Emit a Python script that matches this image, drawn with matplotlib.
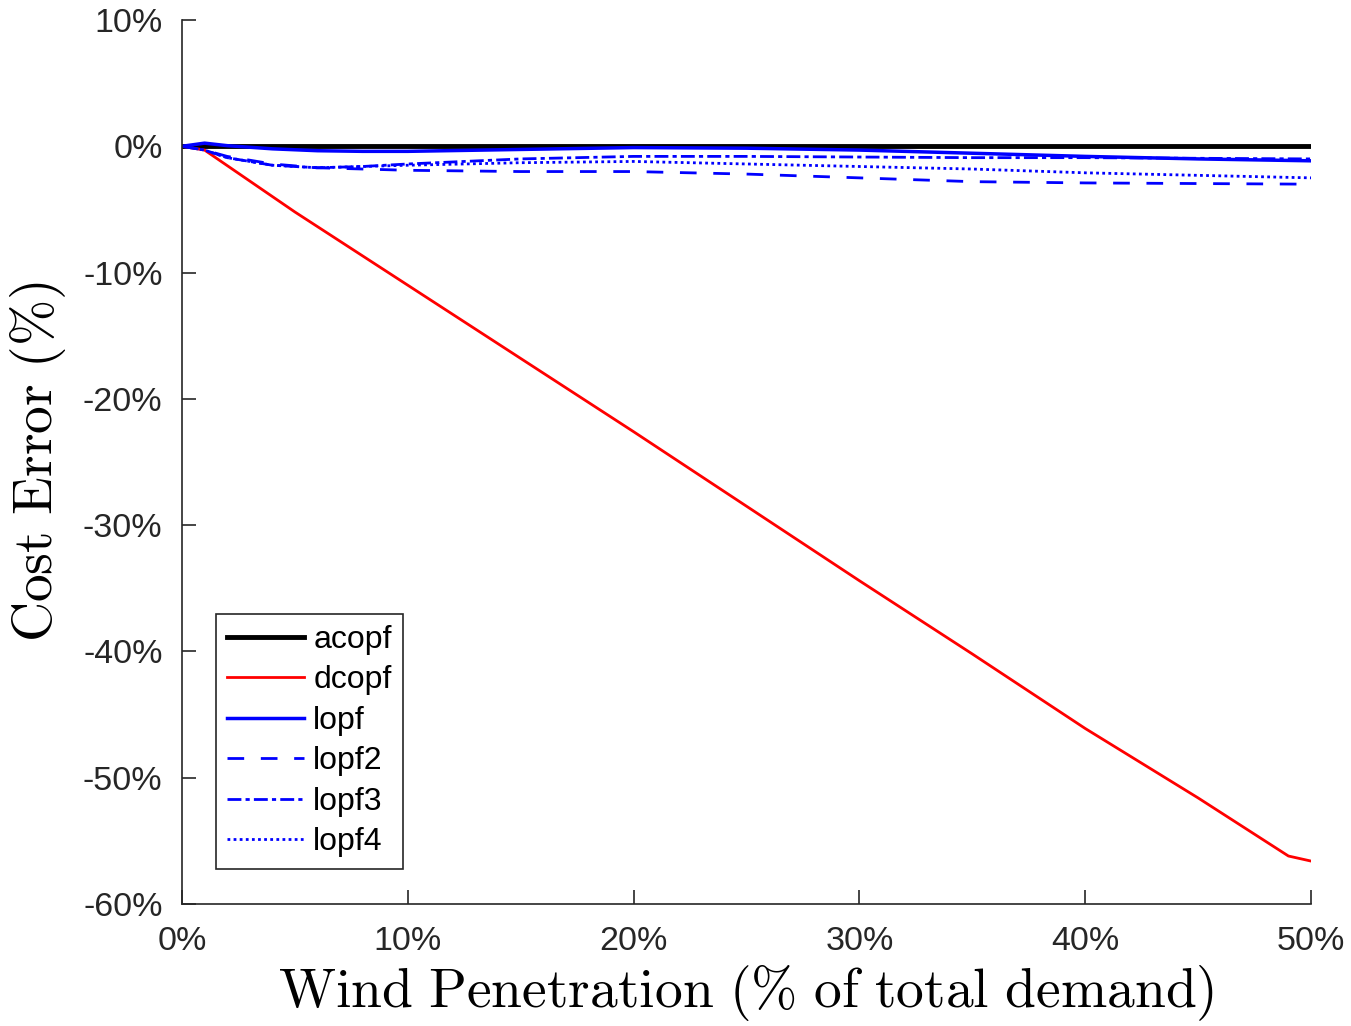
import matplotlib
matplotlib.use('Agg')
import matplotlib.pyplot as plt
from matplotlib.ticker import FuncFormatter

# Wind penetration (% of total demand)
x_red = [0, 1, 5, 10, 15, 20, 25, 30, 35, 40, 45, 49, 50]
dcopf = [0, -0.3, -5.2, -11.0, -16.8, -22.6, -28.5, -34.4, -40.2, -46.1, -51.6, -56.2, -56.6]

x_blue = [0, 1, 2, 4, 6, 8, 10, 15, 20, 25, 30, 35, 40, 45, 50]
acopf = [0] * len(x_blue)
lopf = [0, 0.25, 0.05, -0.2, -0.35, -0.4, -0.4, -0.25, -0.1, -0.15, -0.3, -0.55, -0.8, -1.0, -1.15]
lopf2 = [0, -0.3, -0.8, -1.4, -1.7, -1.8, -1.9, -2.0, -2.0, -2.2, -2.5, -2.8, -2.9, -2.95, -3.0]
lopf3 = [0, -0.3, -0.9, -1.5, -1.7, -1.6, -1.4, -1.0, -0.8, -0.8, -0.85, -0.9, -0.9, -0.95, -1.0]
lopf4 = [0, -0.3, -0.9, -1.5, -1.7, -1.6, -1.5, -1.3, -1.2, -1.4, -1.6, -1.8, -2.1, -2.3, -2.5]

plt.rcParams['font.family'] = ['Liberation Sans', 'DejaVu Sans']
plt.rcParams['mathtext.fontset'] = 'cm'

fig = plt.figure(figsize=(13.51, 10.26), dpi=100)
ax = fig.add_axes([0.1347, 0.1189, 0.8357, 0.8616])

ax.plot(x_blue, acopf, color='black', lw=3.5, label='acopf')
ax.plot(x_red, dcopf, color='red', lw=2, label='dcopf')
ax.plot(x_blue, lopf, color='blue', lw=2.5, label='lopf')
ax.plot(x_blue, lopf2, color='blue', lw=2, ls=(0, (6, 6)), label='lopf2')
ax.plot(x_blue, lopf3, color='blue', lw=2, ls=(0, (5, 1.5, 1.5, 1.5)), label='lopf3')
ax.plot(x_blue, lopf4, color='blue', lw=2, ls=(0, (1, 1.2)), label='lopf4')

ax.set_xlim(0, 50)
ax.set_ylim(-60, 10)
ax.set_xticks(range(0, 51, 10))
ax.set_yticks(range(-60, 11, 10))
pct = FuncFormatter(lambda v, p: '%d%%' % v)
ax.xaxis.set_major_formatter(pct)
ax.yaxis.set_major_formatter(pct)

for s in ['top', 'right']:
    ax.spines[s].set_visible(False)
for s in ['left', 'bottom']:
    ax.spines[s].set_color('#262626')
    ax.spines[s].set_linewidth(1.2)
ax.tick_params(direction='in', length=10, width=1.2, colors='#262626',
               labelsize=24.5)
ax.tick_params(axis='x', pad=16)
ax.tick_params(axis='y', pad=14)

ax.set_xlabel(r'$\mathrm{Wind\ Penetration\ (\%\ of\ total\ demand)}$',
              fontsize=40, labelpad=4)
ax.set_ylabel(r'$\mathrm{Cost\ Error\ (\%)}$', fontsize=40, labelpad=11)

leg = ax.legend(loc='lower left', bbox_to_anchor=(0.03, 0.04), borderaxespad=0,
                fontsize=23, fancybox=False, framealpha=1, handlelength=2.4,
                handletextpad=0.3, labelspacing=0.33, borderpad=0.35)
leg.get_frame().set_edgecolor('#262626')
leg.get_frame().set_linewidth(1.2)

fig.savefig('out.png', dpi=100)
